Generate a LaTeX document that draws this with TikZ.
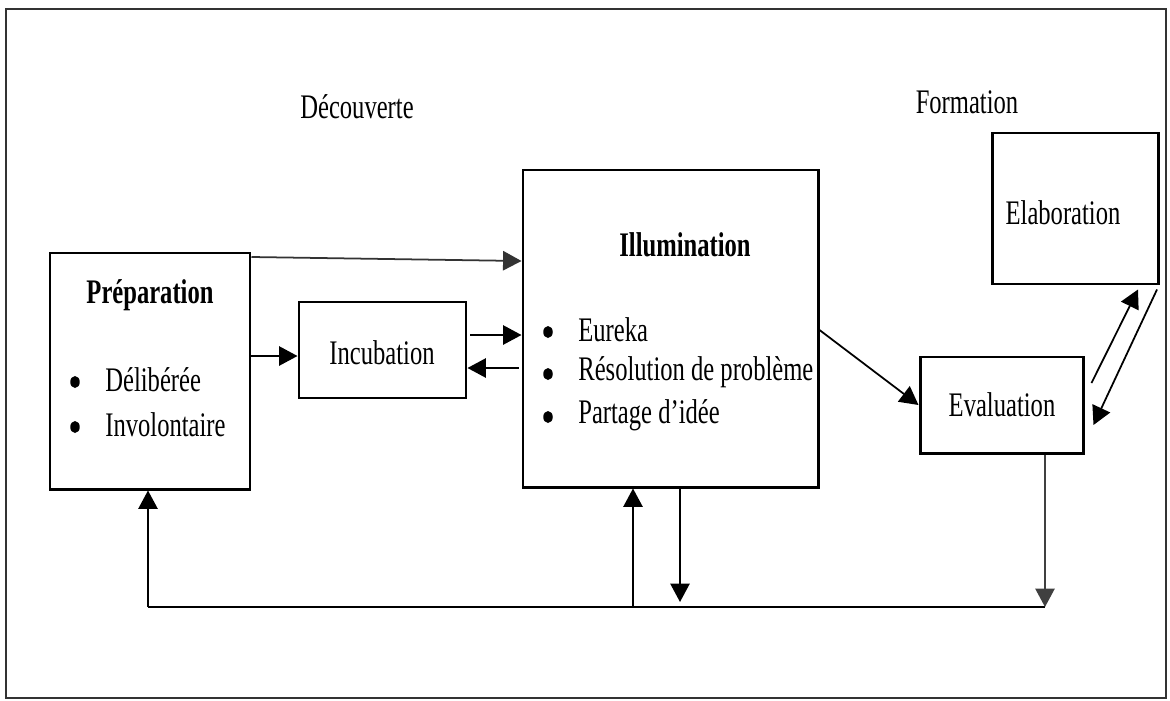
\documentclass[tikz,border=0pt]{standalone}
\usepackage{fontspec}
\setmainfont{Liberation Serif}
\usetikzlibrary{arrows.meta,calc,shapes.geometric}
\newcommand\tallt[1]{\scalebox{1}[1.4]{#1}}
\begin{document}
\begin{tikzpicture}[x=0.02cm,y=-0.02cm,
  box/.style={draw=black,line width=1.7pt,inner sep=0pt,minimum width=#1},
  lbl/.style={inner sep=0pt,font=\fontsize{14}{17}\selectfont},
  dot/.style={ellipse,fill=black,inner sep=0pt,minimum width=0.19cm,minimum height=0.24cm},
  arr/.style={line width=1pt,-{Triangle[length=10.5pt,width=11pt]}},
  ln/.style={line width=1pt}]
\useasboundingbox (0,0) rectangle (1170,700);
% outer frame
\draw[line width=1.3pt,black!80] (6,9) rectangle (1166,698);

% boxes
\node[box=200*0.02cm,minimum height=236*0.02cm] (prep)  at (150,371)   {};
\node[box=167*0.02cm,minimum height=96*0.02cm]  (incub) at (382.5,350) {};
\node[box=295*0.02cm,minimum height=317*0.02cm] (illum) at (670.5,328.5) {};
\node[box=166*0.02cm,minimum height=151*0.02cm] (elab)  at (1075,208.5) {};
\node[box=163*0.02cm,minimum height=96*0.02cm]  (eval)  at (1001.5,405) {};

% headings
\node[lbl] (tdec) at (357,107) {\tallt{Découverte}};
\node[lbl] (tfor) at (967,102) {\tallt{Formation}};

% texts in boxes
\node[lbl] (tprep) at (150,295) {\tallt{\bfseries Préparation}};
\node[dot] (bp1) at (75,382) {};
\node[lbl,anchor=west] (tp1) at (105,380) {\tallt{Délibérée}};
\node[dot] (bp2) at (75,427) {};
\node[lbl,anchor=west] (tp2) at (105,425) {\tallt{Involontaire}};

\node[lbl] (tinc) at (382,353) {\tallt{Incubation}};

\node[lbl] (till) at (685,245) {\tallt{\bfseries Illumination}};
\node[dot] (bi1) at (548,332) {};
\node[lbl,anchor=west] (ti1) at (578,330) {\tallt{Eureka}};
\node[dot] (bi2) at (548,374) {};
\node[lbl,anchor=west] (ti2) at (578,372) {\tallt{Résolution de problème}};
\node[dot] (bi3) at (548,417) {};
\node[lbl,anchor=west] (ti3) at (578,415) {\tallt{Partage d’idée}};

\node[lbl] (telab) at (1063,213) {\tallt{Elaboration}};
\node[lbl] (teval) at (1002,405) {\tallt{Evaluation}};

% connectors between boxes
\draw[arr,black!80] (prep.east |- 0,257) -- (illum.west |- 0,261);
\draw[arr] (prep.east |- 0,356) -- (incub.west |- 0,356);
\draw[arr] ($(incub.east |- 0,335)+(3,0)$) -- (illum.west |- 0,335);
\draw[arr] ($(illum.west |- 0,368)+(-3,0)$) -- (incub.east |- 0,368);
\draw[arr] (illum.east |- 0,330) -- (eval.west);
\draw[arr] ($(eval.east)+(7,-22)$) -- ($(elab.south)+(63,4)$);
\draw[arr] ($(elab.south)+(82,4)$) -- ($(eval.east)+(9,20)$);

% feedback loop along the bottom
\coordinate (pl) at (148,607);
\coordinate (il) at (633,607);
\coordinate (idn) at (680,602);
\coordinate (er) at (1045,607);
\draw[ln] (pl) -- (er);
\draw[arr] (pl) -- (pl |- prep.south);
\draw[arr] (il) -- (il |- illum.south);
\draw[arr] (idn |- illum.south) -- (idn);
\draw[arr,black!75] (er |- eval.south) -- (er);
\end{tikzpicture}
\end{document}
